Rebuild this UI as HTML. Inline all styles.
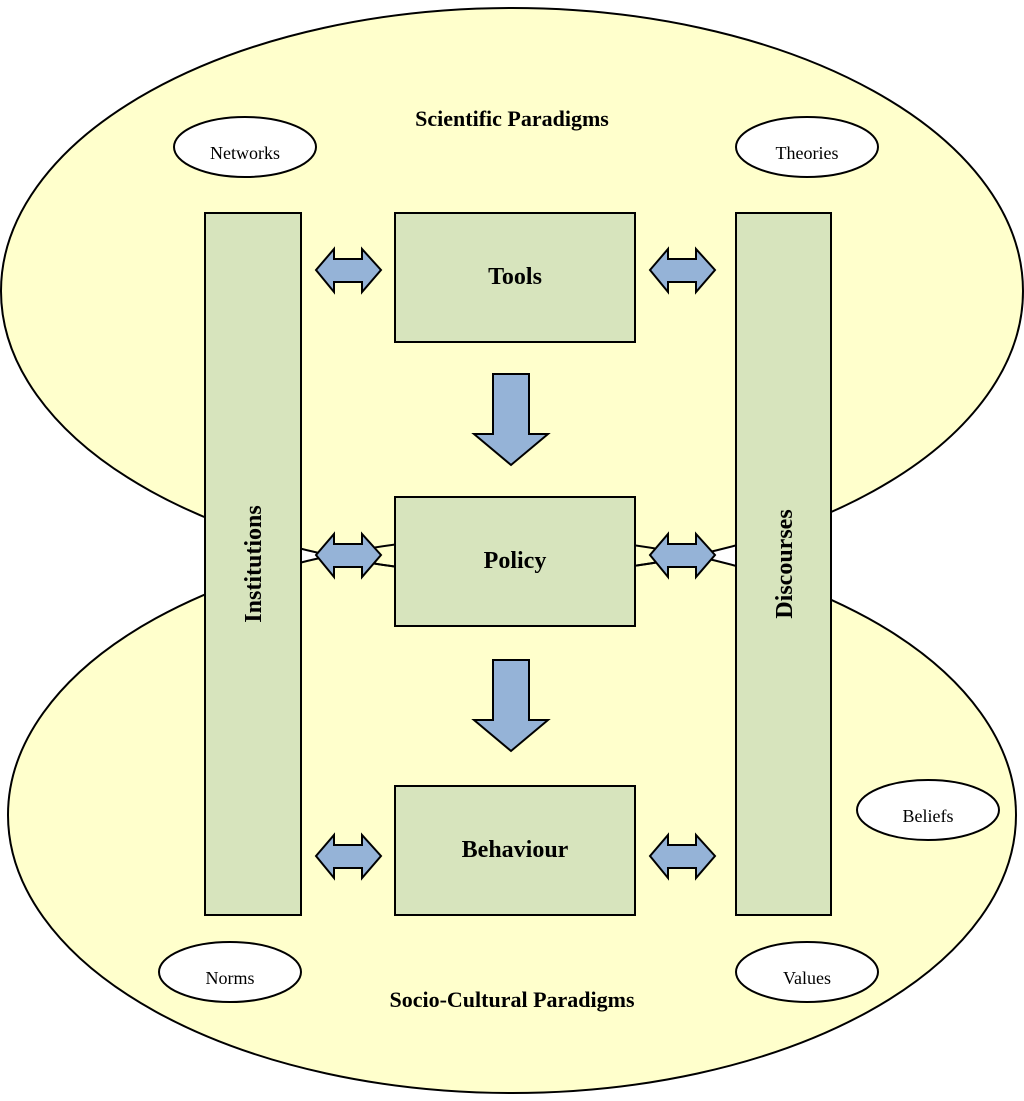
<!DOCTYPE html>
<html><head><meta charset="utf-8"><style>body{margin:0;background:#fff}svg{display:block}</style></head><body>
<svg width="1024" height="1101" viewBox="0 0 1024 1101" xmlns="http://www.w3.org/2000/svg" font-family="Liberation Serif, serif">
<defs>
<g id="da"><path d="M0,0 L18,-21 L18,-11 L46,-11 L46,-21 L65,0 L46,22 L46,12 L18,12 L18,22 Z" fill="#95b3d7" stroke="#000" stroke-width="2"/></g>
<g id="dn"><path d="M-18,0 L18,0 L18,60 L37,60 L0,91 L-37,60 L-18,60 Z" fill="#95b3d7" stroke="#000" stroke-width="2"/></g>
</defs>
<ellipse cx="512" cy="815" rx="504" ry="278" fill="#ffffcc" stroke="#000" stroke-width="2"/>
<ellipse cx="512" cy="291" rx="511" ry="283" fill="#ffffcc" stroke="#000" stroke-width="2"/>
<path d="M8,815 A504,278 0 0 1 1016,815" fill="none" stroke="#000" stroke-width="2" clip-path="url(#c)"/>
<clipPath id="c"><ellipse cx="512" cy="291" rx="511" ry="283"/></clipPath>
<path d="M1,291 A511,283 0 0 0 1023,291" fill="none" stroke="#000" stroke-width="2" clip-path="url(#c2)"/>
<clipPath id="c2"><ellipse cx="512" cy="815" rx="504" ry="278"/></clipPath>
<text x="512" y="126" font-size="22" font-weight="bold" text-anchor="middle">Scientific Paradigms</text>
<text x="512" y="1007" font-size="22" font-weight="bold" text-anchor="middle">Socio-Cultural Paradigms</text>
<g fill="#fff" stroke="#000" stroke-width="2">
<ellipse cx="245" cy="147" rx="71" ry="30"/>
<ellipse cx="807" cy="147" rx="71" ry="30"/>
<ellipse cx="928" cy="810" rx="71" ry="30"/>
<ellipse cx="230" cy="972" rx="71" ry="30"/>
<ellipse cx="807" cy="972" rx="71" ry="30"/>
</g>
<g font-size="18" text-anchor="middle">
<text x="245" y="159">Networks</text>
<text x="807" y="159">Theories</text>
<text x="928" y="822">Beliefs</text>
<text x="230" y="984">Norms</text>
<text x="807" y="984">Values</text>
</g>
<g fill="#d7e4bd" stroke="#000" stroke-width="2">
<rect x="205" y="213" width="96" height="702"/>
<rect x="736" y="213" width="95" height="702"/>
<rect x="395" y="213" width="240" height="129"/>
<rect x="395" y="497" width="240" height="129"/>
<rect x="395" y="786" width="240" height="129"/>
</g>
<g font-size="24" font-weight="bold" text-anchor="middle">
<text x="515" y="284">Tools</text>
<text x="515" y="568">Policy</text>
<text x="515" y="857">Behaviour</text>
<text transform="translate(261,564) rotate(-90)">Institutions</text>
<text transform="translate(792,564) rotate(-90)">Discourses</text>
</g>
<use href="#da" x="316" y="270"/><use href="#da" x="650" y="270"/>
<use href="#da" x="316" y="555"/><use href="#da" x="650" y="555"/>
<use href="#da" x="316" y="856"/><use href="#da" x="650" y="856"/>
<use href="#dn" x="511" y="374"/><use href="#dn" x="511" y="660"/>
</svg>
</body></html>
